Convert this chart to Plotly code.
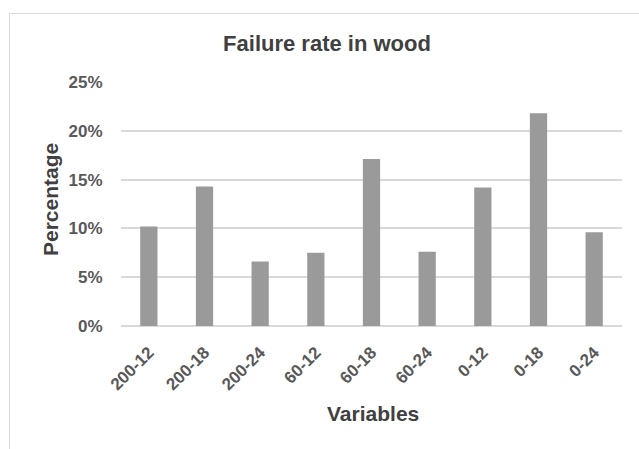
import plotly.graph_objects as go

categories = ["200-12", "200-18", "200-24", "60-12", "60-18", "60-24", "0-12", "0-18", "0-24"]
failure_rate = [0.102, 0.143, 0.066, 0.075, 0.171, 0.076, 0.142, 0.218, 0.096]
y_ticks = [0, 0.05, 0.10, 0.15, 0.20, 0.25]

FONT = "Liberation Sans, Arial, sans-serif"
W, H = 639, 449
L, R, T, B = 121, 17, 82, 123
pw, ph = W - L - R, H - T - B

def px_x(x):
    return (x - L) / pw

def px_y(y):
    return (H - B - y) / ph

fig = go.Figure(go.Bar(
    x=categories, y=failure_rate,
    marker=dict(color="#9a9a9a", line=dict(width=0)),
    width=0.31,
))

fig.update_layout(
    width=W, height=H,
    margin=dict(l=L, r=R, t=T, b=B, autoexpand=False),
    paper_bgcolor="white", plot_bgcolor="white",
    showlegend=False,
    font=dict(family=FONT, color="#595959"),
    title=dict(text="Failure rate in wood", x=327 / W, xanchor="center",
               y=1 - 43 / H, yanchor="middle", yref="container",
               font=dict(size=22, color="#404040", family=FONT, weight="bold")),
    xaxis=dict(
        type="category",
        tickangle=-45, tickfont=dict(size=17, color="#595959", family=FONT, weight="bold"),
        showgrid=False, showline=False, zeroline=False,
        ticks="outside", ticklen=9, tickcolor="rgba(0,0,0,0)",
    ),
    yaxis=dict(
        range=[0, 0.25], tickvals=y_ticks, tickformat=".0%",
        tickfont=dict(size=17, color="#595959", family=FONT, weight="bold"),
        showgrid=True, gridcolor="#d9d9d9", gridwidth=1.5,
        zeroline=True, zerolinecolor="#d9d9d9", zerolinewidth=1.5,
        showline=False, ticks="outside", ticklen=14, tickcolor="rgba(0,0,0,0)",
    ),
    annotations=[
        dict(text="<b>Variables</b>", x=px_x(372.5), y=px_y(413), xref="paper", yref="paper",
             showarrow=False, xanchor="center", yanchor="middle",
             font=dict(size=21, color="#404040", family=FONT)),
        dict(text="<b>Percentage</b>", x=px_x(50), y=px_y(200), xref="paper", yref="paper",
             showarrow=False, xanchor="center", yanchor="middle", textangle=-90,
             font=dict(size=21, color="#404040", family=FONT)),
    ],
    shapes=[
        dict(type="line", xref="paper", yref="paper", x0=px_x(9.5), x1=px_x(9.5),
             y0=px_y(13.5), y1=px_y(460), line=dict(color="#d9d9d9", width=1)),
        dict(type="line", xref="paper", yref="paper", x0=px_x(9.5), x1=px_x(660),
             y0=px_y(13.5), y1=px_y(13.5), line=dict(color="#d9d9d9", width=1)),
    ],
)

fig.write_html("out.html", config={"displayModeBar": False},
               post_script="document.body.style.margin='0';document.body.style.overflow='hidden';")
